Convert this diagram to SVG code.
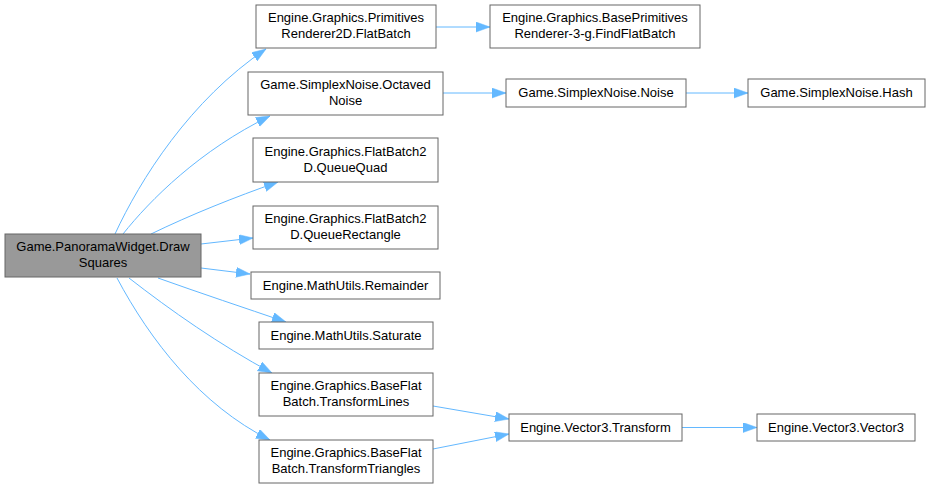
<svg xmlns="http://www.w3.org/2000/svg" width="930" height="488" viewBox="0 0 930 488">
<defs>
<style>
.n rect{fill:#ffffff;stroke:#666666;stroke-width:1}
.r rect{fill:#999999;stroke:#666666;stroke-width:1}
text{font-family:"Liberation Sans",Arial,sans-serif;font-size:13px;text-anchor:middle;fill:#000000}
.e path{fill:none;stroke:#63b8ff;stroke-width:1}
</style>
<marker id="a" markerWidth="15" markerHeight="11" refX="14" refY="5" orient="auto" markerUnits="userSpaceOnUse">
<polygon points="0,0 14,5 0,10" fill="#63b8ff" stroke="#63b8ff" stroke-width="0.5"/>
</marker>
</defs>
<rect width="930" height="488" fill="#ffffff"/>
<g class="e" id="connectors">
<path d="M115,234 C140,180 190,100 266,49" marker-end="url(#a)"/>
<path d="M123,234 C150,200 200,150 270,116" marker-end="url(#a)"/>
<path d="M151,234 C190,215 235,197 278,182" marker-end="url(#a)"/>
<path d="M201,244 L253,238" marker-end="url(#a)"/>
<path d="M201,268 L250,274" marker-end="url(#a)"/>
<path d="M158,278 C200,293 245,308 286,322" marker-end="url(#a)"/>
<path d="M129,278 C170,310 220,345 272,373" marker-end="url(#a)"/>
<path d="M117,278 C150,340 200,405 270,440" marker-end="url(#a)"/>
<path d="M436,27 L490,27" marker-end="url(#a)"/>
<path d="M443,93 L506,93" marker-end="url(#a)"/>
<path d="M686,93 L748,93" marker-end="url(#a)"/>
<path d="M433,406 L509,419" marker-end="url(#a)"/>
<path d="M433,449 L509,434" marker-end="url(#a)"/>
<path d="M682,427.5 L757,427.5" marker-end="url(#a)"/>
</g>
<g class="r" id="root"><rect x="5" y="234" width="196" height="43"/><text x="103" y="251">Game.PanoramaWidget.Draw</text><text x="103" y="267">Squares</text></g>
<g class="n" id="flatbatch"><rect x="256" y="5" width="180" height="43"/><text x="346" y="22">Engine.Graphics.Primitives</text><text x="346" y="38">Renderer2D.FlatBatch</text></g>
<g class="n" id="octaved"><rect x="248" y="72" width="195" height="43"/><text x="345.5" y="89">Game.SimplexNoise.Octaved</text><text x="345.5" y="105">Noise</text></g>
<g class="n" id="queuequad"><rect x="253" y="138" width="185" height="44"/><text x="345.5" y="156">Engine.Graphics.FlatBatch2</text><text x="345.5" y="172">D.QueueQuad</text></g>
<g class="n" id="queuerect"><rect x="253" y="206" width="185" height="43"/><text x="345.5" y="223">Engine.Graphics.FlatBatch2</text><text x="345.5" y="239">D.QueueRectangle</text></g>
<g class="n" id="remainder"><rect x="251" y="272" width="189" height="27"/><text x="345.5" y="290">Engine.MathUtils.Remainder</text></g>
<g class="n" id="saturate"><rect x="259" y="322" width="174" height="27"/><text x="346" y="340">Engine.MathUtils.Saturate</text></g>
<g class="n" id="transformlines"><rect x="259" y="373" width="174" height="43"/><text x="346" y="390">Engine.Graphics.BaseFlat</text><text x="346" y="406">Batch.TransformLines</text></g>
<g class="n" id="transformtriangles"><rect x="259" y="440" width="174" height="43"/><text x="346" y="457">Engine.Graphics.BaseFlat</text><text x="346" y="473">Batch.TransformTriangles</text></g>
<g class="n" id="findflatbatch"><rect x="490" y="5" width="210" height="43"/><text x="595" y="22">Engine.Graphics.BasePrimitives</text><text x="595" y="38">Renderer-3-g.FindFlatBatch</text></g>
<g class="n" id="noise"><rect x="506" y="79" width="180" height="28"/><text x="596" y="97">Game.SimplexNoise.Noise</text></g>
<g class="n" id="hash"><rect x="748" y="79" width="177" height="28"/><text x="836.5" y="97">Game.SimplexNoise.Hash</text></g>
<g class="n" id="transform"><rect x="509" y="414" width="173" height="27"/><text x="595.5" y="432">Engine.Vector3.Transform</text></g>
<g class="n" id="vector3"><rect x="757" y="414" width="158" height="27"/><text x="836" y="432">Engine.Vector3.Vector3</text></g>
</svg>
